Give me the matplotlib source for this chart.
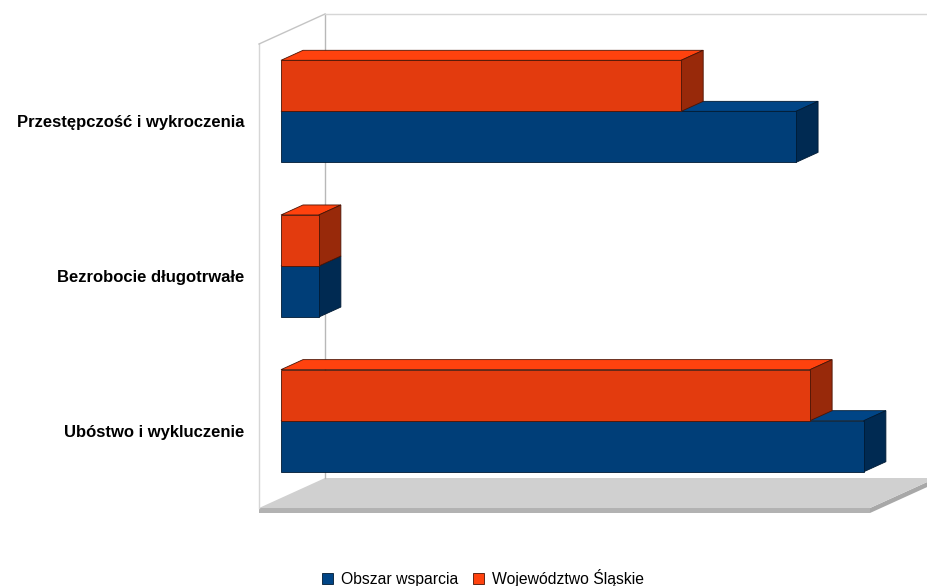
import matplotlib.pyplot as plt
from matplotlib.patches import Polygon, Patch

plt.rcParams['font.family'] = ['Liberation Sans', 'DejaVu Sans']

categories = [
    "Przestępczość i wykroczenia",
    "Bezrobocie długotrwałe",
    "Ubóstwo i wykluczenie"
]

series_names = ["Obszar wsparcia", "Województwo Śląskie"]

obszar = [84.3, 6.2, 95.4]
wojewodztwo = [65.5, 6.2, 86.6]

top_cols = ["#004586", "#ff420e"]
front_cols = ["#003e78", "#e33b0e"]
side_cols = ["#002a52", "#98290a"]
edge_cols = ["#001a33", "#4a1405"]

fig = plt.figure(figsize=(9.27, 5.86), dpi=100)
ax = fig.add_axes([259 / 927, 78 / 586, 611 / 927, 464 / 586])
ax.set_xlim(0, 100)
ax.set_ylim(2.5, -0.5)

# one depth step (scene is three steps deep)
ddx = 22 / 611 * 100
ddy = -10 / 154.67
bar_h = 0.33


def add_poly(pts, fc, ec, lw=0.6, z=3):
    ax.add_patch(Polygon(pts, closed=True, facecolor=fc, edgecolor=ec,
                         linewidth=lw, clip_on=False, zorder=z))


# floor
fx, fy = 3 * ddx, 3 * ddy
lip = 5 / 154.67
add_poly([(0, 2.5), (100, 2.5), (100, 2.5 + lip), (0, 2.5 + lip)],
         "#b2b2b2", "none", 0, 1)
add_poly([(100, 2.5), (100 + fx, 2.5 + fy), (100 + fx, 2.5 + fy + lip),
          (100, 2.5 + lip)], "#a8a8a8", "none", 0, 1)
add_poly([(0, 2.5), (100, 2.5), (100 + fx, 2.5 + fy), (fx, 2.5 + fy)],
         "#d0d0d0", "none", 0, 1)

# walls
ax.plot([0, 0], [2.5, -0.5], color="#d6d6d6", lw=1, clip_on=False, zorder=1)
ax.plot([0, fx], [-0.5, -0.5 + fy], color="#c4c4c4", lw=1,
        clip_on=False, zorder=1)
ax.plot([fx, fx], [-0.5 + fy, 2.5 + fy], color="#b8b8b8", lw=1,
        clip_on=False, zorder=1)
ax.plot([fx, 100 + fx + 5], [-0.5 + fy, -0.5 + fy], color="#d6d6d6", lw=1,
        clip_on=False, zorder=1)


def draw_box(val, y0, y1, k):
    x0, x1 = ddx, val + ddx
    a, b = y0 + ddy, y1 + ddy
    # top face
    add_poly([(x0, a), (x1, a), (x1 + ddx, a + ddy), (x0 + ddx, a + ddy)],
             top_cols[k], edge_cols[k])
    # side face
    add_poly([(x1, a), (x1 + ddx, a + ddy), (x1 + ddx, b + ddy), (x1, b)],
             side_cols[k], edge_cols[k])
    # front face
    add_poly([(x0, a), (x1, a), (x1, b), (x0, b)],
             front_cols[k], edge_cols[k])


for i in range(len(categories)):
    draw_box(obszar[i], i, i + bar_h, 0)
    draw_box(wojewodztwo[i], i - bar_h, i, 1)

ax.set_yticks(range(len(categories)))
ax.set_yticklabels(categories, fontsize=12, fontweight="bold")
ax.tick_params(axis="y", length=0, pad=10.5)
ax.set_xticks([])
for s in ax.spines.values():
    s.set_visible(False)

handles = [Patch(facecolor=top_cols[k], edgecolor=edge_cols[k],
                 linewidth=0.6) for k in range(2)]
fig.legend(handles, series_names, loc="center", ncol=2,
           bbox_to_anchor=(483 / 927, 1 - 578 / 586), frameon=False,
           fontsize=11.3, handlelength=0.75, handleheight=0.75,
           handletextpad=0.5, columnspacing=0.9)

fig.savefig("out.png", dpi=100)
plt.close()
